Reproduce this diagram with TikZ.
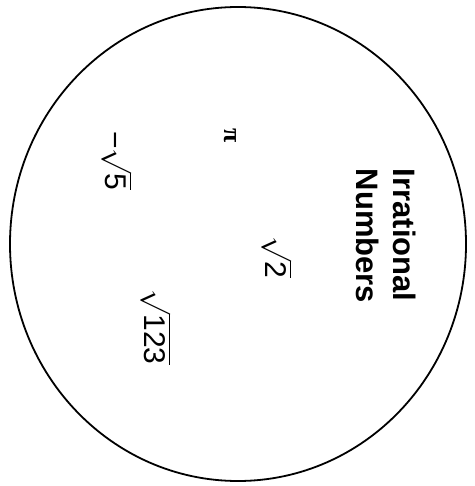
\RequirePackage{fix-cm}
\documentclass[tikz,border=0pt]{standalone}
\usepackage{fontspec}
\setmainfont{Liberation Sans}
\newfontfamily\pifont{Liberation Serif}
\begin{document}
\begin{tikzpicture}[x=1pt,y=-1pt,line cap=round,line join=round,
    setline/.style={line width=1.8pt},
    member/.style={rotate=-90,inner sep=0pt,font=\fontsize{30}{36}\selectfont},
    pisym/.style={rotate=-90,inner sep=0pt,font=\fontsize{26}{30}\selectfont\pifont\bfseries},
    setname/.style={rotate=-90,inner sep=0pt,align=left,
      font=\fontsize{31}{37}\selectfont\bfseries}]
    \useasboundingbox (0,0) rectangle (474,486);
    % The set drawn as one large closed curve.
    \draw[setline] (238,244) ellipse [x radius=228,y radius=237];
    % Name of the set, turned on its side like the members.
    \node[setname] (name) at (386,236) {Irrational\\Numbers};
    % Members of the set.
    \node[pisym] (piv) at (230,136) {π};
    \node[member] (msqrtfive) at (117,161) {−\kern-1pt$\sqrt{\mbox{5}}$};
    \node[member] (sqrttwo) at (277,257) {$\sqrt{\mbox{2}}$};
    \node[member] (sqrtonetwothree) at (156,327) {$\sqrt{\mbox{123}}$};
  \end{tikzpicture}
\end{document}
